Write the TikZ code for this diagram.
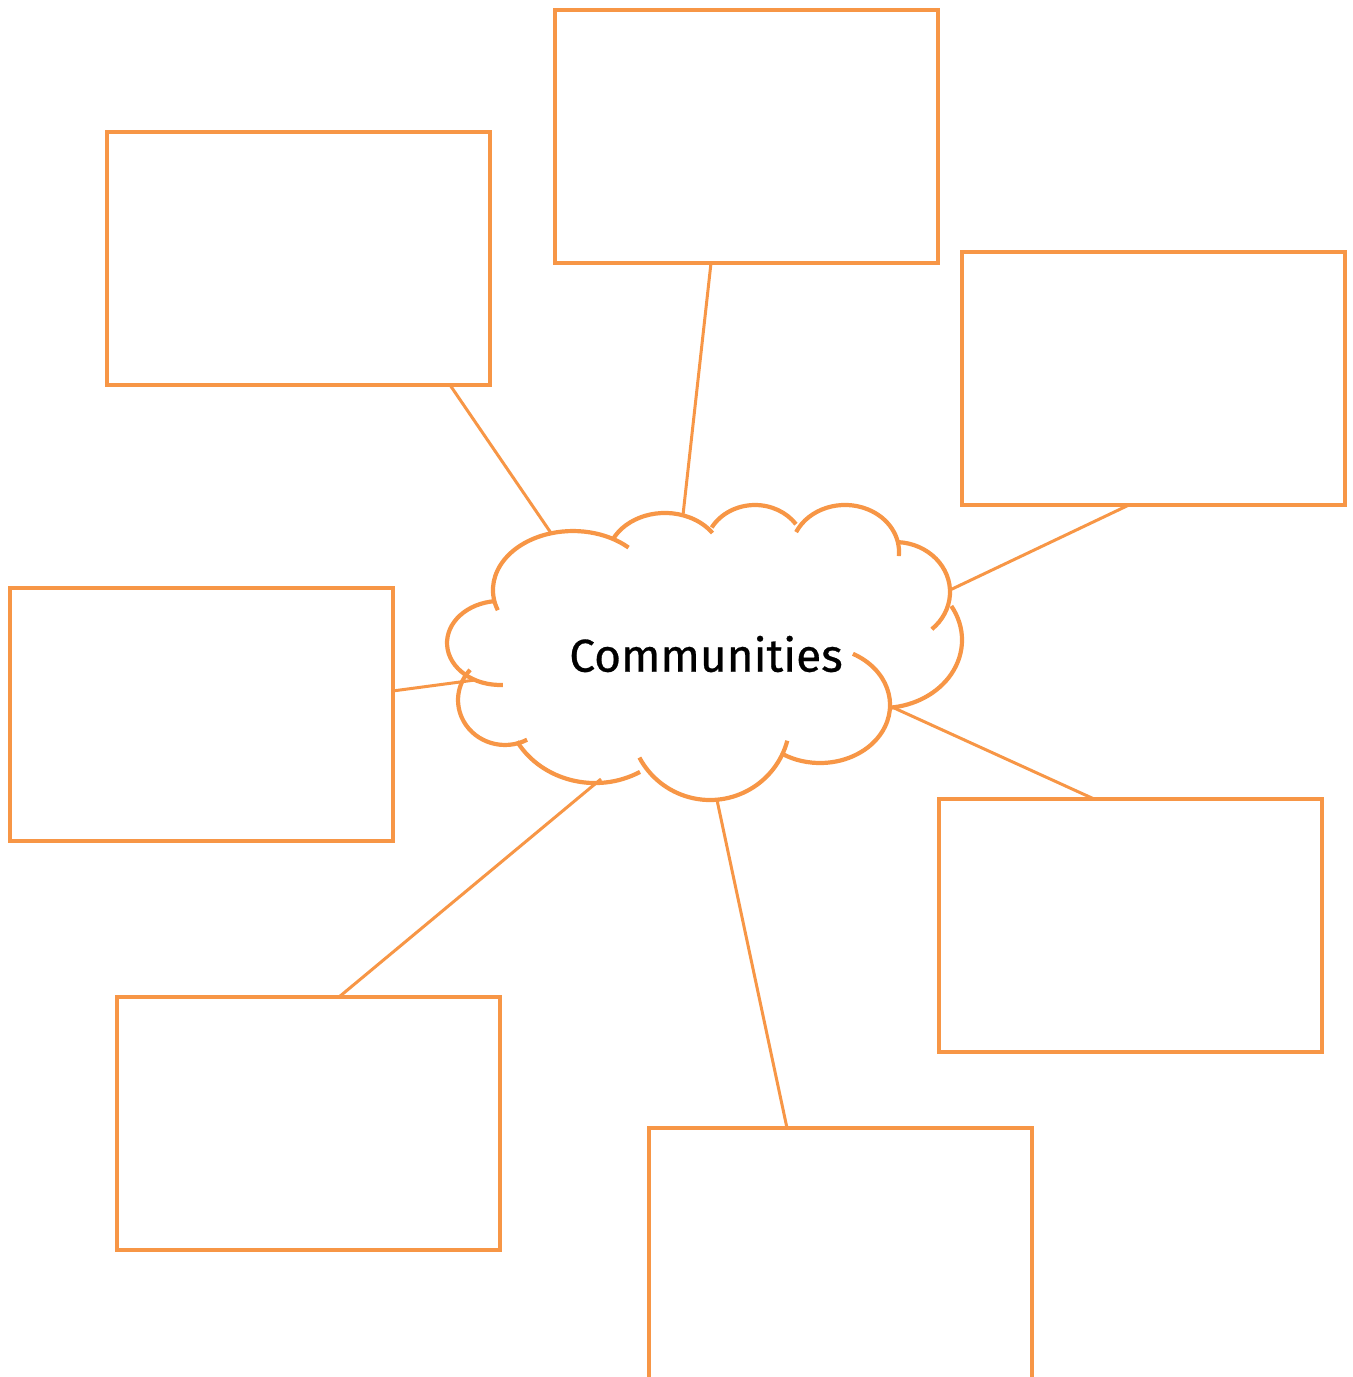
\documentclass[tikz,border=0pt]{standalone}
\usepackage{fontspec}
\setmainfont{Fira Sans}
\newfontfamily\topicfont[FakeBold=0.6]{Fira Sans}
\usetikzlibrary{calc}
\definecolor{accent}{HTML}{F79646}
\tikzset{
  box/.style={draw=accent, line width=2pt, rectangle, inner sep=0pt, outer sep=0pt,
              minimum width=191.5pt, minimum height=126.5pt},
  link/.style={draw=accent, line width=1.5pt},
  lobe/.style={draw=accent, line width=2.1pt}
}
\begin{document}
\begin{tikzpicture}[x=0.5pt, y=-0.5pt]
\useasboundingbox (0,0) rectangle (1353,1377);
\clip (0,0) rectangle (1353,1377);

% topic boxes
\node[box] (b1) at (298.5,258.5) {};
\node[box] (b2) at (746.5,136.5) {};
\node[box] (b3) at (1153.5,378) {};
\node[box] (b4) at (201,714.5) {};
\node[box] (b5) at (1130,925) {};
\node[box] (b6) at (308.5,1123.5) {};
\node[box] (b7) at (840,1254.5) {};

% central cloud, one elliptical arc per lobe
\path[lobe] (497.8,610.2) arc[start angle=160, end angle=314, x radius=80, y radius=59];
\path[lobe] (612.4,540.1) arc[start angle=205, end angle=325, x radius=58, y radius=47];
\path[lobe] (711.7,527.5) arc[start angle=210, end angle=325, x radius=50, y radius=45];
\path[lobe] (796.1,532.1) arc[start angle=205, end angle=365, x radius=54, y radius=47];
\path[lobe] (897.9,542.1) arc[start angle=273, end angle=408, x radius=55, y radius=50];
\path[lobe] (951.3,606.0) arc[start angle=-30, end angle=85, x radius=80, y radius=68];
\path[lobe] (852.9,653.8) arc[start angle=-62, end angle=122, x radius=70, y radius=58];
\path[lobe] (787.3,740.7) arc[start angle=15, end angle=152, x radius=80, y radius=80];
\path[lobe] (640.0,771.9) arc[start angle=60, end angle=150, x radius=90, y radius=83];
\path[lobe] (527.1,739.7) arc[start angle=62, end angle=222, x radius=47, y radius=45];
\path[lobe] (502.8,684.9) arc[start angle=87, end angle=265, x radius=53, y radius=42];

\node (topic) at (706,654) {\topicfont\fontsize{23pt}{27pt}\selectfont Communities};

% points where the links meet the cloud
\coordinate (k1) at (551,533);
\coordinate (k2) at (683,515);
\coordinate (k3) at (950,590);
\coordinate (k4) at (475,680);
\coordinate (k5) at (892,707);
\coordinate (k6) at (601,779);
\coordinate (k7) at (717,800);

% links
\draw[link] ($(b1.south)+(151.5,0)$) -- (k1);
\draw[link] ($(b2.south)+(-35.5,0)$) -- (k2);
\draw[link] ($(b3.south)+(-23.5,0)$) -- (k3);
\draw[link] ($(b4.east)+(0,-23.5)$) -- (k4);
\draw[link] ($(b5.north)+(-37,0)$) -- (k5);
\draw[link] ($(b6.north)+(30.5,0)$) -- (k6);
\draw[link] ($(b7.north)+(-53,0)$) -- (k7);
\end{tikzpicture}
\end{document}
